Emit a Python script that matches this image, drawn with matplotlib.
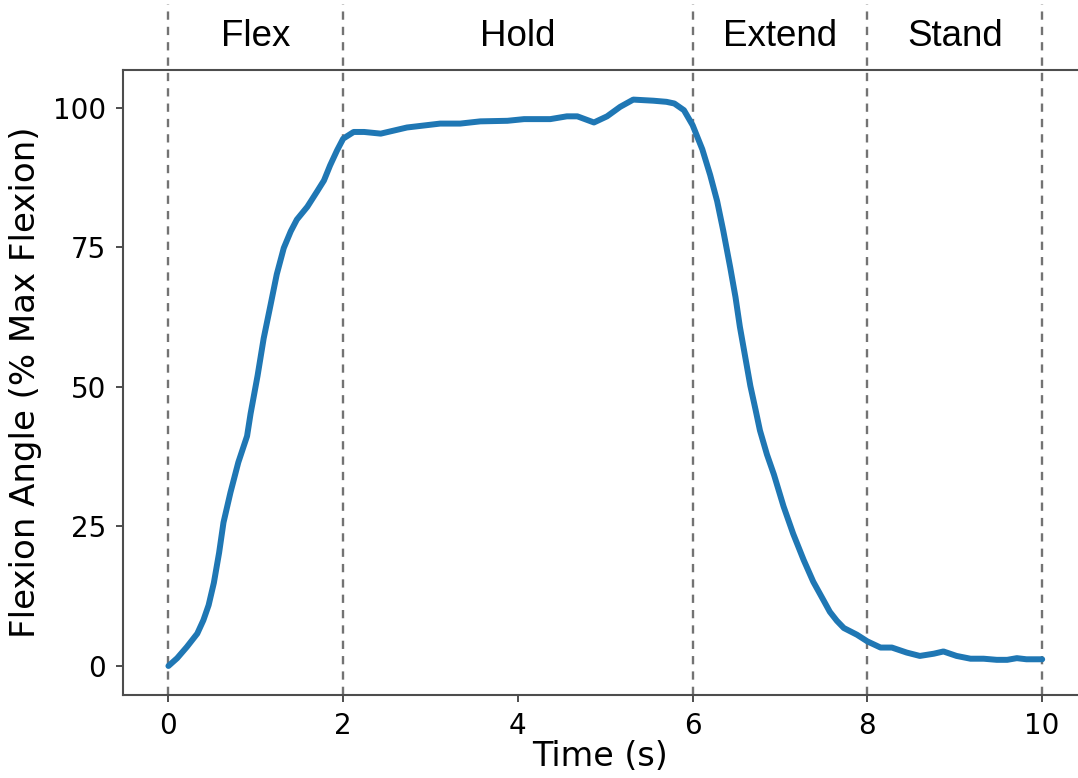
import matplotlib
matplotlib.use("Agg")
import matplotlib.pyplot as plt
import matplotlib.transforms as mtransforms

# flexion trace, % of max flexion over time
time_s = [0.0, 0.1, 0.21, 0.33, 0.4, 0.46, 0.52, 0.58, 0.63, 0.71, 0.8,
          0.9, 0.94, 1.02, 1.09, 1.17, 1.24, 1.32, 1.4, 1.47, 1.59, 1.7,
          1.78, 1.85, 1.93, 2.0, 2.12, 2.24, 2.43, 2.73, 3.11, 3.34,
          3.57, 3.88, 4.07, 4.37, 4.56, 4.68, 4.87, 5.02, 5.17, 5.32, 5.55,
          5.7, 5.79, 5.9, 6.0, 6.11, 6.2, 6.28, 6.35, 6.43, 6.49, 6.54,
          6.6, 6.66, 6.72, 6.77, 6.85, 6.93, 7.04, 7.15, 7.27, 7.38, 7.5,
          7.57, 7.65, 7.73, 7.88, 8.0, 8.15, 8.28, 8.45, 8.6, 8.76,
          8.87, 9.02, 9.18, 9.33, 9.48, 9.6, 9.71, 9.82, 10.0]
flexion = [0.0, 1.4, 3.4, 5.8, 8.2, 10.9, 14.9, 20.3, 25.7, 31.1, 36.5,
           41.2, 45.2, 52.0, 58.7, 64.8, 70.2, 74.9, 77.9, 80.0, 82.3, 85.0,
           87.0, 89.7, 92.4, 94.5, 95.7, 95.7, 95.4, 96.5, 97.2, 97.2,
           97.6, 97.7, 98.0, 98.0, 98.5, 98.5, 97.4, 98.5, 100.2, 101.5, 101.3,
           101.1, 100.8, 99.6, 96.9, 92.6, 88.0, 83.3, 78.0, 71.4, 66.1, 60.8,
           55.5, 50.2, 45.9, 42.2, 37.9, 34.3, 28.6, 23.7, 19.0, 15.1, 11.7,
           9.7, 8.1, 6.8, 5.6, 4.4, 3.3, 3.3, 2.4, 1.8, 2.2,
           2.6, 1.8, 1.3, 1.3, 1.1, 1.1, 1.4, 1.2, 1.2]

phase_edges = [0, 2, 6, 8, 10]
phase_names = ["Flex", "Hold", "Extend", "Stand"]
xticks = [0, 2, 4, 6, 8, 10]
yticks = [0, 25, 50, 75, 100]

fig = plt.figure(figsize=(10.78, 7.78), dpi=100)
ax = fig.add_axes([0.1141, 0.1067, 0.8859, 0.8033])

ax.plot(time_s, flexion, color="#1f77b4", lw=4.3, solid_capstyle="round",
        solid_joinstyle="round")

# phase boundaries run up past the axes into the label strip
for e in phase_edges:
    ax.axvline(e, ymin=0, ymax=1.105, color="0.45", ls=(0, (3.5, 3.0)),
               lw=1.7, clip_on=False, zorder=1)

trans = mtransforms.blended_transform_factory(ax.transData, ax.transAxes)
for a, b, name in zip(phase_edges[:-1], phase_edges[1:], phase_names):
    ax.text((a + b) / 2, 1.054, name, transform=trans, ha="center",
            va="center", fontsize=26.5, family="Liberation Sans")

ax.set_xlim(-0.52, 10.41)
ax.set_ylim(-5.2, 106.8)
ax.set_xticks(xticks)
ax.set_yticks(yticks)
ax.tick_params(labelsize=20, width=1.4, length=5, color="0.3", pad=7)
ax.set_xlabel("Time (s)", fontsize=24, labelpad=0)
ax.set_ylabel("Flexion Angle (% Max Flexion)", fontsize=24.5, labelpad=8)

for side in ["left", "bottom", "top"]:
    ax.spines[side].set_color("0.3")
    ax.spines[side].set_linewidth(1.5)
ax.spines["right"].set_visible(False)

fig.savefig("out.png", dpi=100)
